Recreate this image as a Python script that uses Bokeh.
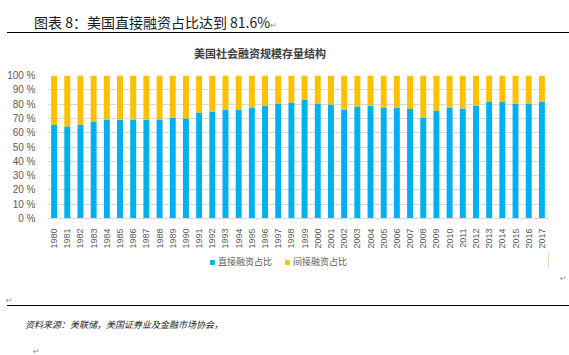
import math
from bokeh.plotting import figure
from bokeh.models import (ColumnDataSource, Range1d, FixedTicker, Legend, LegendItem, Div)
from bokeh.layouts import column
from bokeh.embed import file_html
from bokeh.resources import INLINE

years = [str(y) for y in range(1980, 2018)]
direct = [65.4, 64.4, 65.8, 67.5, 69.3, 69.0, 69.3, 69.0, 69.3, 70.7,
          70.0, 74.2, 74.9, 76.3, 75.8, 77.7, 79.1, 80.5, 81.2, 82.8,
          80.5, 79.8, 76.3, 78.4, 78.9, 77.7, 77.7, 76.6, 70.7, 75.6,
          77.7, 77.0, 79.1, 81.4, 81.4, 80.3, 80.5, 81.6]
indirect = [34.6, 35.6, 34.2, 32.5, 30.7, 31.0, 30.7, 31.0, 30.7, 29.3,
            30.0, 25.8, 25.1, 23.7, 24.2, 22.3, 20.9, 19.5, 18.8, 17.2,
            19.5, 20.2, 23.7, 21.6, 21.1, 22.3, 22.3, 23.4, 29.3, 24.4,
            22.3, 23.0, 20.9, 18.6, 18.6, 19.7, 19.5, 18.4]
series_names = ["直接融资占比", "间接融资占比"]
series_colors = ["#00B0F0", "#FFC000"]
y_ticks = [0, 10, 20, 30, 40, 50, 60, 70, 80, 90, 100]

header_text = "图表 8：美国直接融资占比达到 81.6%"
chart_title = "美国社会融资规模存量结构"
source_text = "资料来源：美联储，美国证券业及金融市场协会，"

W = 569
CJK = "Noto Sans CJK SC"
RET = '<span style="font-family:DejaVu Sans;font-size:8px;color:#8c8c8c;">↵</span>'

# ---- header (HTML) ----
HH = 62
header_html = (
    f'<div style="position:relative;width:{W}px;height:{HH}px;font-family:\'{CJK}\';">'
    f'<div style="position:absolute;left:34px;top:12px;font-size:14px;line-height:20px;'
    f'color:#1a1a1a;white-space:nowrap;">{header_text}{RET}</div>'
    f'<div style="position:absolute;left:7px;top:32px;width:{W - 7}px;height:0;'
    f'border-top:1px solid #000;"></div>'
    f'<div style="position:absolute;left:194px;top:45px;font-size:11px;line-height:16px;'
    f'font-weight:bold;color:#404040;white-space:nowrap;">{chart_title}</div>'
    f'</div>')
hdr = Div(text=header_html, width=W, height=HH, margin=0)

# ---- chart ----
src = ColumnDataSource(dict(years=years, direct=direct, indirect=indirect))
p = figure(frame_width=501, frame_height=143, x_range=years, y_range=Range1d(0, 100),
           output_backend="svg", toolbar_location=None,
           min_border_left=47, min_border_right=21, min_border_top=13,
           min_border_bottom=34)
r = p.vbar_stack(["direct", "indirect"], x="years", width=0.45, source=src,
                 color=series_colors, line_color=None)
p.outline_line_color = None
p.xgrid.grid_line_color = None
p.ygrid.grid_line_color = "#d9d9d9"
p.yaxis.ticker = FixedTicker(ticks=y_ticks)
p.yaxis.major_label_overrides = {t: f"{t} %" for t in y_ticks}
p.yaxis.axis_line_color = None
p.yaxis.major_tick_line_color = None
p.yaxis.minor_tick_line_color = None
p.yaxis.major_label_text_font_size = "10px"
p.yaxis.major_label_text_color = "#595959"
p.yaxis.major_label_text_font = "Liberation Sans"
p.yaxis.major_label_standoff = 6
p.xaxis.axis_line_color = "#d9d9d9"
p.xaxis.major_tick_line_color = None
p.xaxis.major_label_orientation = math.pi / 2
p.xaxis.major_label_text_font_size = "9px"
p.xaxis.major_label_text_color = "#595959"
p.xaxis.major_label_text_font = "Liberation Sans"
p.xaxis.major_label_standoff = 4

# ---- legend strip (own small figure, same series colours) ----
lg = figure(frame_width=501, frame_height=16, output_backend="svg",
            toolbar_location=None, x_axis_location=None, y_axis_location=None,
            x_range=Range1d(0, 1), y_range=Range1d(0, 1),
            min_border_left=47, min_border_right=21, min_border_top=0,
            min_border_bottom=0)
lg.grid.visible = False
lg.outline_line_color = None
# keys only: their single bar lies outside the strip's visible range
lr = [lg.vbar(x=[5], top=[1], width=0.5, color=c, line_color=None) for c in series_colors]
legend = Legend(items=[LegendItem(label=series_names[i], renderers=[lr[i]])
                       for i in range(2)],
                orientation="horizontal", location=(162, 0),
                glyph_width=6, glyph_height=6, label_height=10,
                label_text_font=CJK, label_text_font_size="9px",
                label_text_color="#595959", spacing=12, padding=2, margin=0,
                label_standoff=3, border_line_color=None,
                background_fill_alpha=0)
lg.add_layout(legend)

# ---- footer (HTML) ----
FH = 87
footer_html = (
    f'<div style="position:relative;width:{W}px;height:{FH}px;font-family:\'{CJK}\';">'
    f'<div style="position:absolute;left:560px;top:-1px;">{RET}</div>'
    f'<div style="position:absolute;left:6px;top:21px;">{RET}</div>'
    f'<div style="position:absolute;left:7px;top:37px;width:{W - 7}px;height:0;'
    f'border-top:1px solid #000;"></div>'
    f'<div style="position:absolute;left:25px;top:50px;font-size:9px;line-height:14px;'
    f'font-style:italic;color:#262626;white-space:nowrap;">{source_text}</div>'
    f'<div style="position:absolute;left:33px;top:72px;">{RET}</div>'
    f'</div>')
ftr = Div(text=footer_html, width=W, height=FH, margin=0)

layout = column(hdr, p, lg, ftr, spacing=0)
open("out.html", "w").write(file_html(layout, INLINE))
